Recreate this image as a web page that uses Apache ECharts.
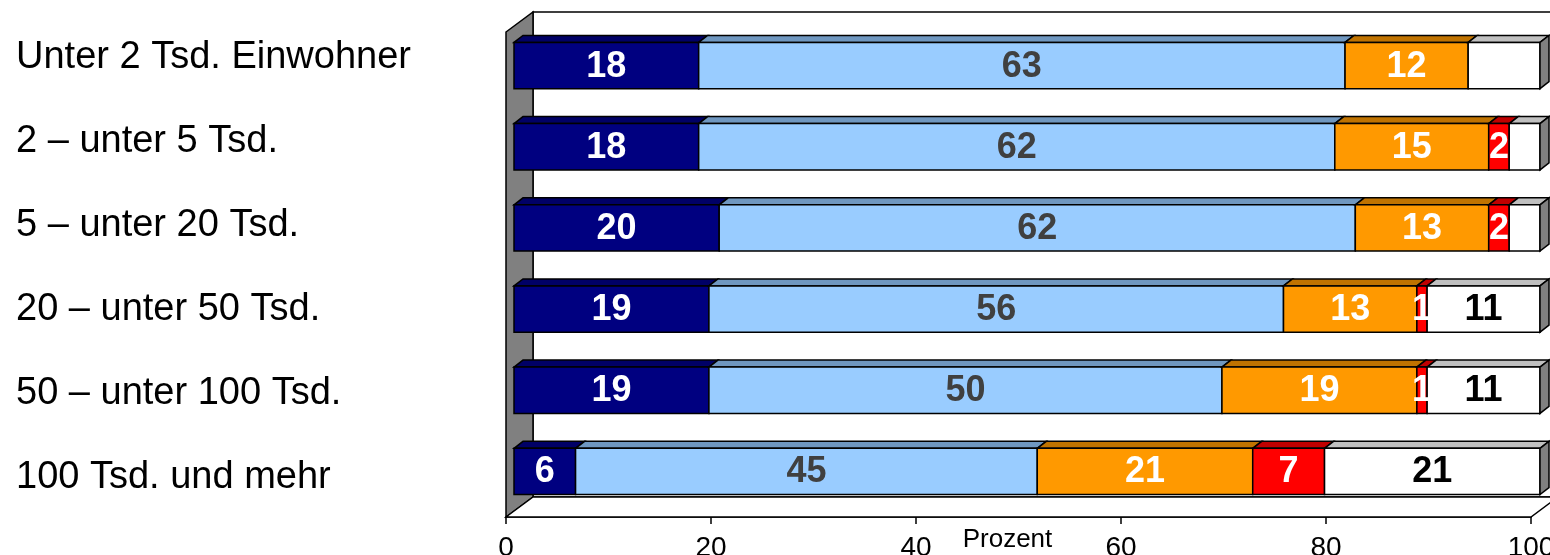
<!DOCTYPE html>
<html>
<head>
<meta charset="utf-8">
<script src="https://cdn.jsdelivr.net/npm/echarts@6/dist/echarts.min.js"></script>
<style>
  html, body { margin: 0; padding: 0; background: #fff; }
  #chart { width: 1550px; height: 555px; }
</style>
</head>
<body>
<div id="chart"></div>
<script>
// Gemeindegrößenklassen
const categories = ['Unter 2 Tsd. Einwohner', '2 – unter 5 Tsd.', '5 – unter 20 Tsd.', '20 – unter 50 Tsd.', '50 – unter 100 Tsd.', '100 Tsd. und mehr'];
// Anteile in Prozent, je Segment
const dunkelblau = [18, 18, 20, 19, 19, 6];
const hellblau = [63, 62, 62, 56, 50, 45];
const orange = [12, 15, 13, 13, 19, 21];
const rot = [0, 2, 2, 1, 1, 7];
const weiss = [7, 3, 3, 11, 11, 21];
const xTicks = [0, 20, 40, 60, 80, 100];

const FONT = '"Liberation Sans", Arial, sans-serif';

// Farben (Vorderseite / Oberseite / Beschriftung), minLabel = kleinster beschrifteter Wert
const segments = [
  { values: dunkelblau, front: '#000080', top: '#000066', text: '#ffffff', minLabel: 1 },
  { values: hellblau, front: '#99CCFF', top: '#6F97C0', text: '#404040', minLabel: 1 },
  { values: orange, front: '#FF9900', top: '#C07300', text: '#ffffff', minLabel: 1 },
  { values: rot, front: '#FF0000', top: '#C00000', text: '#ffffff', minLabel: 1 },
  { values: weiss, front: '#FFFFFF', top: '#C0C0C0', text: '#000000', minLabel: 10 }
];

// Start/Ende je Segment kumulieren
const starts = categories.map(() => 0);
const segData = segments.map(seg => {
  return seg.values.map((v, i) => {
    const s = starts[i];
    starts[i] += v;
    return [i, s, s + v];
  });
});

function renderSegment(seg, k, isLast) {
  return function (params, api) {
    const row = api.value(0), start = api.value(1), end = api.value(2);
    if (end <= start) return;
    const a = api.coord([start, row]);
    const b = api.coord([end, row]);
    const h = api.size([0, 1])[1] * 0.57;
    const y0 = a[1] - h / 2, y1 = a[1] + h / 2;
    const dx = 9, dy = -7;
    const z2 = k * 10;
    const children = [
      {
        type: 'polygon', z2: z2,
        shape: { points: [[a[0], y0], [a[0] + dx, y0 + dy], [b[0] + dx, y0 + dy], [b[0], y0]] },
        style: { fill: seg.top, stroke: '#000', lineWidth: 1.5 }
      },
      {
        type: 'rect', z2: z2 + 1,
        shape: { x: a[0], y: y0, width: b[0] - a[0], height: h },
        style: { fill: seg.front, stroke: '#000', lineWidth: 1.5 }
      }
    ];
    if (isLast) {
      // Seitenfläche rechts
      children.push({
        type: 'polygon', z2: z2 + 2,
        shape: { points: [[b[0], y0], [b[0] + dx, y0 + dy], [b[0] + dx, y1 + dy], [b[0], y1]] },
        style: { fill: '#808080', stroke: '#000', lineWidth: 1.5 }
      });
    }
    const val = end - start;
    if (val >= seg.minLabel) {
      children.push({
        type: 'text', z2: 1000,
        x: (a[0] + b[0]) / 2,
        y: a[1] + 1,
        style: {
          text: String(val), fill: seg.text, font: 'bold 36px ' + FONT,
          align: 'center', verticalAlign: 'middle'
        }
      });
    }
    return { type: 'group', children: children };
  };
}

// Rückwand, Seitenwand, Boden
function renderFrame(params, api) {
  const a = api.coord([0, 0]), b = api.coord([100, 1]);
  const DX = 27, DY = -20;
  const st = { stroke: '#000', lineWidth: 1.5 };
  return {
    type: 'group',
    children: [
      {
        type: 'rect',
        shape: { x: a[0] + DX, y: b[1] + DY, width: b[0] - a[0], height: a[1] - b[1] },
        style: Object.assign({ fill: '#fff' }, st)
      },
      {
        type: 'polygon',
        shape: { points: [[a[0], b[1]], [a[0] + DX, b[1] + DY], [a[0] + DX, a[1] + DY], [a[0], a[1]]] },
        style: Object.assign({ fill: '#808080' }, st)
      },
      {
        type: 'polygon',
        shape: { points: [[a[0], a[1]], [a[0] + DX, a[1] + DY], [b[0] + DX, a[1] + DY], [b[0], a[1]]] },
        style: Object.assign({ fill: '#fff' }, st)
      }
    ]
  };
}

const chart = echarts.init(document.getElementById('chart'));

const series = [{
  type: 'custom',
  xAxisIndex: 1,
  yAxisIndex: 1,
  renderItem: renderFrame,
  data: [[0, 0]],
  clip: false,
  silent: true,
  z: 1
}];
segments.forEach((seg, k) => {
  series.push({
    type: 'custom',
    xAxisIndex: 0,
    yAxisIndex: 0,
    renderItem: renderSegment(seg, k, k === segments.length - 1),
    data: segData[k],
    clip: false,
    z: 2
  });
});

chart.setOption({
  animation: false,
  backgroundColor: '#fff',
  grid: [
    { left: 514, right: 10, top: 25, bottom: 43, outerBoundsMode: 'none' },
    { left: 506, right: 19, top: 32, bottom: 38, outerBoundsMode: 'none' },
    { left: 16, width: 10, top: 16, bottom: 35, outerBoundsMode: 'none' }
  ],
  xAxis: [
    { type: 'value', gridIndex: 0, min: 0, max: 100, show: false },
    {
      type: 'value', gridIndex: 1, min: xTicks[0], max: xTicks[xTicks.length - 1], interval: 20,
      axisLine: { show: true, lineStyle: { color: '#000', width: 1.5 } },
      axisTick: { show: true, length: 7, lineStyle: { color: '#000', width: 1.5 } },
      splitLine: { show: false },
      axisLabel: { color: '#000', fontSize: 28, fontFamily: FONT, margin: 17 },
      name: 'Prozent', nameLocation: 'middle', nameGap: 10, nameMoveOverlap: false,
      nameTextStyle: { color: '#000', fontSize: 26, fontFamily: FONT, padding: [0, 22, 0, 0] }
    },
    { type: 'value', gridIndex: 2, show: false }
  ],
  yAxis: [
    { type: 'category', gridIndex: 0, data: categories, inverse: true, show: false },
    { type: 'value', gridIndex: 1, min: 0, max: 1, show: false },
    {
      type: 'category', gridIndex: 2, data: categories, inverse: true,
      axisLine: { show: false }, axisTick: { show: false }, splitLine: { show: false },
      axisLabel: { inside: true, align: 'left', margin: 0, color: '#000', fontSize: 38, fontFamily: FONT }
    }
  ],
  series: series
});
</script>
</body>
</html>
